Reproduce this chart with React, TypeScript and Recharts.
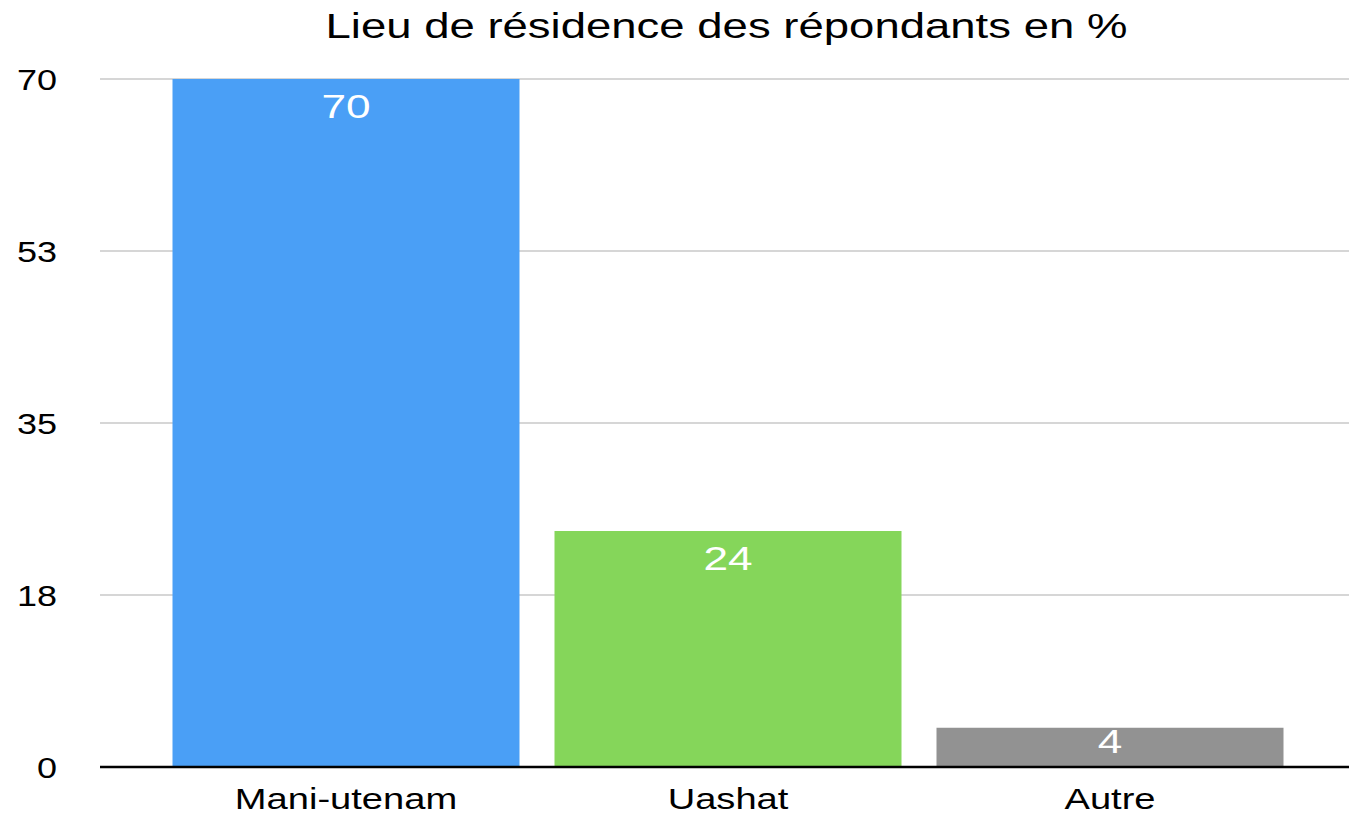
import React from "react";
import { BarChart, Bar, XAxis, YAxis, CartesianGrid, Cell } from "recharts";

const categories = ["Mani-utenam", "Uashat", "Autre"];
const values = [70, 24, 4];
const colors = ["#4A9FF6", "#85D65A", "#929292"];
const yTicks = [0, 17.5, 35, 52.5, 70];
const title = "Lieu de résidence des répondants en %";

const data = categories.map((c, i) => ({ name: c, value: values[i] }));

const FONT = "'Liberation Sans', Arial, Helvetica, sans-serif";

const XTick = (props: any) => {
  const { x, y, payload } = props;
  return (
    <text
      transform={`translate(${x},${y + 42}) scale(1.27,1)`}
      textAnchor="middle"
      fontFamily={FONT}
      fontSize={30}
      fill="#000"
    >
      {payload.value}
    </text>
  );
};

const YTick = (props: any) => {
  const { x, y, payload } = props;
  return (
    <text
      transform={`translate(${x - 43},${y + 11}) scale(1.2,1)`}
      textAnchor="end"
      fontFamily={FONT}
      fontSize={30}
      fill="#000"
    >
      {Math.round(payload.value)}
    </text>
  );
};

const BarLabel = (props: any) => {
  const { x, y, width, height, value } = props;
  const baseline = y + Math.min(39, height - 14);
  return (
    <text
      transform={`translate(${x + width / 2},${baseline}) scale(1.3,1)`}
      textAnchor="middle"
      fontFamily={FONT}
      fontSize={34}
      fill="#fff"
    >
      {Math.round(value)}
    </text>
  );
};

export default function App() {
  return (
    <div
      style={{
        position: "absolute",
        left: 0,
        top: 0,
        width: 1349,
        height: 815,
        background: "#fff",
        overflow: "hidden",
      }}
    >
      <div
        style={{
          position: "absolute",
          left: 0,
          top: 8,
          width: 1349,
          textAlign: "center",
          fontFamily: FONT,
          fontSize: 35,
          lineHeight: 1,
          color: "#000",
          whiteSpace: "nowrap",
        }}
      >
        <span style={{ display: "inline-block", transform: "scaleX(1.3)", marginLeft: 103 }}>
          {title}
        </span>
      </div>
      <BarChart
        width={1349}
        height={815}
        data={data}
        margin={{ top: 79, right: 0, bottom: 0, left: 0 }}
        barCategoryGap={17.5}
      >
        <CartesianGrid horizontal vertical={false} stroke="#c8c8c8" strokeWidth={1.5} />
        <XAxis
          dataKey="name"
          height={48}
          interval={0}
          padding={{ left: 55, right: 48 }}
          tickLine={false}
          tickSize={0}
          tickMargin={0}
          axisLine={{ stroke: "#000", strokeWidth: 2.5 }}
          tick={<XTick />}
        />
        <YAxis
          width={100}
          domain={[0, 70]}
          ticks={yTicks}
          interval={0}
          tickLine={false}
          tickSize={0}
          tickMargin={0}
          axisLine={false}
          tick={<YTick />}
        />
        <Bar dataKey="value" isAnimationActive={false} label={<BarLabel />}>
          {data.map((d, i) => (
            <Cell key={d.name} fill={colors[i]} />
          ))}
        </Bar>
      </BarChart>
    </div>
  );
}
